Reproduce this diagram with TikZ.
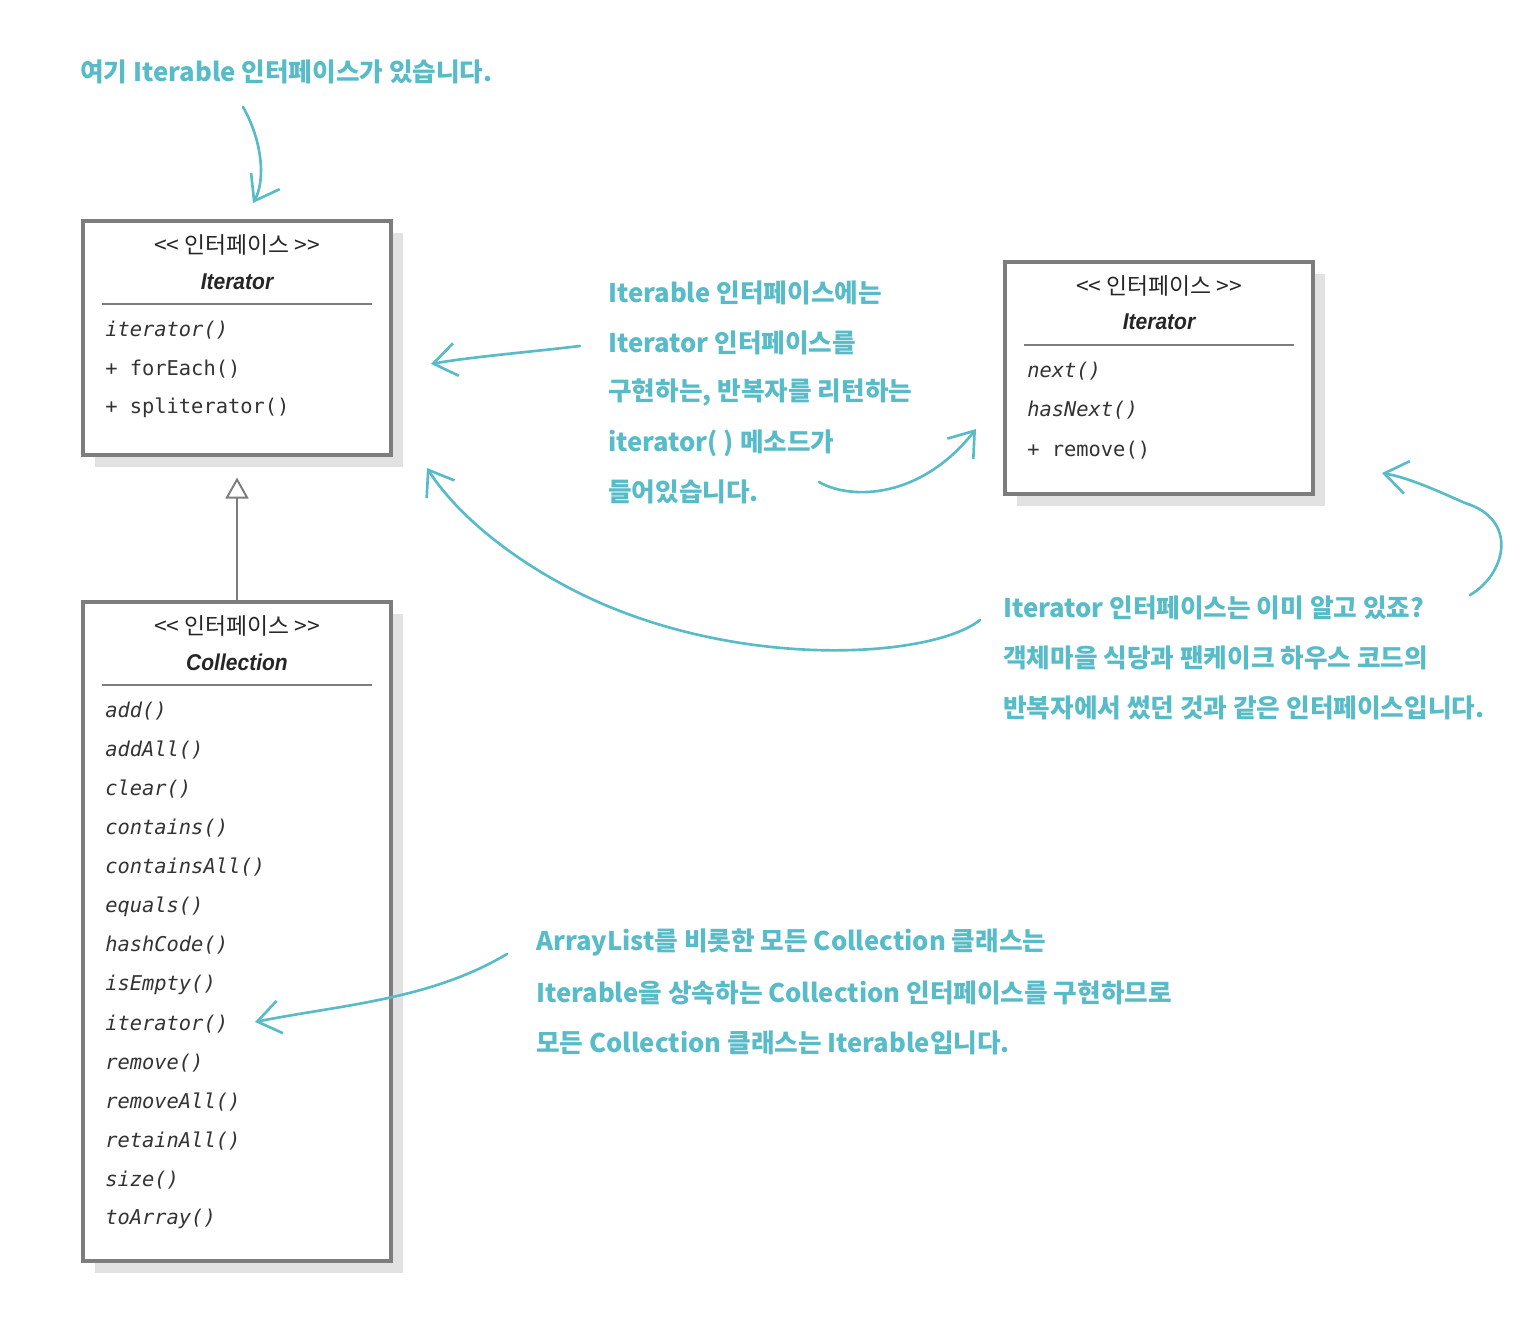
\documentclass[tikz,border=0pt]{standalone}
\usepackage{fontspec}
\newfontfamily\kr{Noto Sans CJK KR}
\newfontfamily\krs[Ligatures=TeXOff]{Noto Sans CJK KR}
\newfontfamily\hdrfont[FakeStretch=0.92]{Liberation Sans}
\newfontfamily\monofont{DejaVu Sans Mono}
\usetikzlibrary{arrows.meta,shadows}
\definecolor{notec}{RGB}{88,187,200}
\definecolor{boxline}{RGB}{125,125,125}
\definecolor{shade}{RGB}{226,226,226}
\begin{document}
\begin{tikzpicture}[x=0.02cm,y=-0.02cm,
  classbox/.style={draw=boxline, line width=1.8pt, fill=white, inner sep=0,
    drop shadow={shadow xshift=0.24cm, shadow yshift=-0.24cm, fill=shade, opacity=1}},
  stereo/.style={inner sep=0, text=black!85, font=\krs\fontsize{13pt}{15pt}\selectfont},
  cname/.style={inner sep=0, text=black!85, font=\hdrfont\bfseries\itshape\fontsize{13pt}{15pt}\selectfont},
  absop/.style={anchor=west, inner sep=0, text=black!80, font=\monofont\itshape\fontsize{11.6pt}{14pt}\selectfont},
  op/.style={anchor=west, inner sep=0, text=black!80, font=\monofont\fontsize{11.6pt}{14pt}\selectfont},
  rulebar/.style={draw=boxline, line width=1.7pt},
  note/.style={anchor=west, inner sep=0, text=notec, font=\kr\bfseries\fontsize{14.6pt}{17pt}\selectfont},
  hand/.style={draw=notec, line width=1.5pt, line cap=round,
    -{Straight Barb[length=0.46cm,width=0.66cm]}},
]
\fill[white] (0,0) rectangle (1516,1324);
\useasboundingbox (0,0) rectangle (1516,1324);

% ---- Iterable (printed "Iterator") box
\node[classbox, minimum width=6.16cm, minimum height=4.68cm] (itb) at (237,338) {};
\node[stereo] (itbs) at (237,245) {<< 인터페이스 >>};
\node[cname] (itbn) at (237,282) {Iterator};
\draw[rulebar] (102,304) -- (372,304);
\node[absop] (itb1) at (105,330) {iterator()};
\node[op] (itb2) at (105,369) {+ forEach()};
\node[op] (itb3) at (105,408) {+ spliterator()};

% ---- Iterator box
\node[classbox, minimum width=6.16cm, minimum height=4.64cm] (itr) at (1159,378) {};
\node[stereo] (itrs) at (1159,286) {<< 인터페이스 >>};
\node[cname] (itrn) at (1159,322) {Iterator};
\draw[rulebar] (1024,345) -- (1294,345);
\node[absop] (itr1) at (1027,371) {next()};
\node[absop] (itr2) at (1027,410) {hasNext()};
\node[op] (itr3) at (1027,450) {+ remove()};

% ---- Collection box
\node[classbox, minimum width=6.16cm, minimum height=13.18cm] (col) at (237,931.5) {};
\node[stereo] (cols) at (237,626) {<< 인터페이스 >>};
\node[cname] (coln) at (237,662) {Collection};
\draw[rulebar] (102,685) -- (372,685);
\foreach \m [count=\i from 0] in {add(),addAll(),clear(),contains(),containsAll(),equals(),hashCode(),isEmpty(),iterator(),remove(),removeAll(),retainAll(),size(),toArray()}
  \node[absop] (colm\i) at (105,711+39.08*\i) {\m};

% ---- generalization
\draw[draw=boxline, line width=1.1pt, -{Triangle[open, length=0.42cm, width=0.46cm]}, shorten >=0.42cm]
  (col.north) -- (itb.south);

% ---- notes
\node[note] (n1) at (80,72) {여기 Iterable 인터페이스가 있습니다.};

\node[note] (n2a) at (608,293) {Iterable 인터페이스에는};
\node[note] (n2b) at (608,343) {Iterator 인터페이스를};
\node[note] (n2c) at (608,393) {구현하는, 반복자를 리턴하는};
\node[note] (n2d) at (608,443) {iterator( ) 메소드가};
\node[note] (n2e) at (608,492) {들어있습니다.};

\node[note] (n3a) at (1003,608) {Iterator 인터페이스는 이미 알고 있죠?};
\node[note] (n3b) at (1003,658) {객체마을 식당과 팬케이크 하우스 코드의};
\node[note] (n3c) at (1003,708) {반복자에서 썼던 것과 같은 인터페이스입니다.};

\node[note] (n4a) at (536,942) {ArrayList를 비롯한 모든 Collection 클래스는};
\node[note] (n4b) at (536,993) {Iterable을 상속하는 Collection 인터페이스를 구현하므로};
\node[note] (n4c) at (536,1043) {모든 Collection 클래스는 Iterable입니다.};

% ---- hand-drawn arrows
\coordinate (a1s) at (243,107);  \coordinate (a1e) at (253,203);
\draw[hand] (a1s) .. controls (262,140) and (266,180) .. (a1e);

\coordinate (a2s) at (580,346);  \coordinate (a2e) at (431,364);
\draw[hand] (a2s) .. controls (530,352) and (470,357) .. (a2e);

\coordinate (a3s) at (819,482);  \coordinate (a3e) at (976,429);
\draw[hand] (a3s) .. controls (850,500) and (920,500) .. (a3e);

\coordinate (a4s) at (980,620);  \coordinate (a4m) at (560,583);  \coordinate (a4e) at (427,468);
\draw[hand] (a4s) .. controls (930,660) and (720,672) .. (a4m)
  .. controls (505,553) and (455,512) .. (a4e);

\coordinate (a5s) at (1470,595);  \coordinate (a5m) at (1465,503);  \coordinate (a5e) at (1382,473);
\draw[hand] (a5s) .. controls (1505,575) and (1520,520) .. (a5m)
  .. controls (1440,492) and (1410,478) .. (a5e);

\coordinate (a6s) at (507,954);  \coordinate (a6e) at (255,1022);
\draw[hand] (a6s) .. controls (430,1000) and (340,1005) .. (a6e);
\end{tikzpicture}
\end{document}
